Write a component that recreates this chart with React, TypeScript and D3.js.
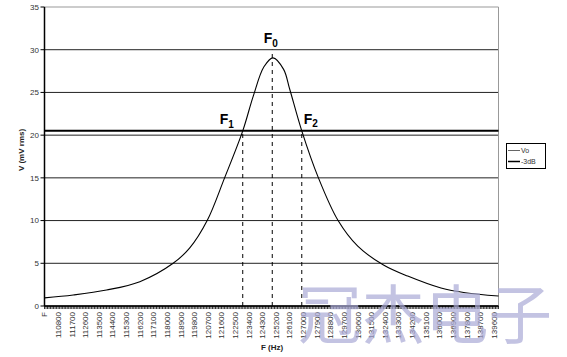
import React from "react";
import * as d3 from "d3";

// Frequency (Hz) and output voltage (mV rms)
const freq = [109900, 111800, 114000, 116200, 118400, 119500, 120650, 121800, 123000, 123700, 124400, 125000, 125700, 126100, 126900, 128000, 129300, 130600, 132300, 133900, 136100, 137700, 139900];
const vo = [0.95, 1.29, 1.87, 2.85, 5.0, 6.8, 10.0, 15.0, 20.5, 24.6, 28.0, 29.05, 27.7, 25.4, 20.5, 15.0, 10.0, 7.0, 4.8, 3.5, 2.1, 1.55, 1.17];
const minus3dB = 20.5;

const yTicks = [0, 5, 10, 15, 20, 25, 30, 35];
const xTickValues = [109900, 110800, 111700, 112600, 113500, 114400, 115300, 116200, 117100, 118000, 118900, 119800, 120700, 121600, 122500, 123400, 124300, 125200, 126100, 127000, 127900, 128800, 129700, 130600, 131500, 132400, 133300, 134200, 135100, 136000, 136900, 137800, 138700, 139600];
const xTickLabels = ["F", "110800", "111700", "112600", "113500", "114400", "115300", "116200", "117100", "118000", "118900", "119800", "120700", "121600", "122500", "123400", "124300", "125200", "126100", "127000", "127900", "128800", "129700", "130600", "131500", "132400", "133300", "134200", "135100", "136000", "136900", "137800", "138700", "139600"];

const markerNames = ["F1", "F0", "F2"];
const markerSubs = ["1", "0", "2"];
const markerFreqs = [123000, 124950, 126900];
const markerTops = [20.5, 30, 20.5];

const legendLabels = ["Vo", "-3dB"];

const W = 567, H = 357;
const left = 44.5, right = 498.5, top = 7, bottom = 306;

export default function App() {
  const x = d3.scaleLinear().domain([109900, 139900]).range([left, right]);
  const y = d3.scaleLinear().domain([0, 35]).range([bottom, top]);
  const line = d3
    .line<number>()
    .x((_, i) => x(freq[i]))
    .y((d) => y(d))
    .curve(d3.curveCatmullRom.alpha(0.5));
  const minorTicks = d3.range(109900, 139901, 100);
  const font = "'Liberation Sans', Arial, sans-serif";

  return (
    <svg width={W} height={H} style={{ position: "absolute", left: 0, top: 0, background: "#fff" }} fontFamily={font}>
      <rect x={0} y={0} width={W} height={H} fill="#fff" />
      {/* gridlines */}
      {yTicks.map((t) => (
        <line key={t} x1={left} x2={right} y1={y(t)} y2={y(t)} stroke={t === 35 ? "#999" : "#222"} strokeWidth={1} />
      ))}
      <line x1={right} x2={right} y1={top} y2={bottom} stroke="#999" />
      {/* -3dB line */}
      <line x1={left} x2={right} y1={y(minus3dB)} y2={y(minus3dB)} stroke="#000" strokeWidth={2} />
      {/* dashed markers */}
      {markerFreqs.map((f, i) => (
        <line key={i} x1={x(f)} x2={x(f)} y1={bottom} y2={y(markerTops[i])} stroke="#000" strokeWidth={1} strokeDasharray="4,4" />
      ))}
      {/* curve */}
      <path d={line(vo) || ""} fill="none" stroke="#000" strokeWidth={1.1} />
      {/* axes */}
      <line x1={left} x2={left} y1={top} y2={bottom} stroke="#000" strokeWidth={1.5} />
      <line x1={left} x2={right} y1={bottom} y2={bottom} stroke="#000" strokeWidth={1.5} />
      {yTicks.map((t) => (
        <g key={t}>
          <line x1={left - 4} x2={left} y1={y(t)} y2={y(t)} stroke="#000" />
          <text x={39} y={y(t)} dy="0.35em" textAnchor="end" fontSize={8} fill="#333">{t}</text>
        </g>
      ))}
      {minorTicks.map((t) => (
        <line key={t} x1={x(t)} x2={x(t)} y1={bottom} y2={bottom + 3} stroke="#000" strokeWidth={0.8} />
      ))}
      {xTickValues.map((t, i) => (
        <text key={t} transform={`translate(${x(t)},312) rotate(-90)`} dy="0.35em" textAnchor="end" fontSize={8} fill="#333">
          {xTickLabels[i]}
        </text>
      ))}
      {/* axis titles */}
      <text transform="translate(23.5,150) rotate(-90)" textAnchor="middle" fontSize={8} fontWeight="bold" fill="#222">V (mV rms)</text>
      <text x={272} y={350} textAnchor="middle" fontSize={8} fontWeight="bold" fill="#222">F (Hz)</text>
      {/* marker labels */}
      {markerFreqs.map((f, i) => {
        const lx = i === 0 ? x(f) - 23 : i === 1 ? x(f) - 8.5 : x(f) + 2;
        const ly = i === 1 ? 43 : i === 0 ? 124 : 123.5;
        return (
          <text key={i} x={lx} y={ly} fontSize={14} fontWeight="bold" fill="#000">
            {markerNames[i][0]}
            <tspan fontSize={10} dy={3.5}>{markerSubs[i]}</tspan>
          </text>
        );
      })}
      {/* legend */}
      <rect x={506.5} y={143.5} width={39} height={25} fill="#fff" stroke="#000" strokeWidth={1} />
      {legendLabels.map((l, i) => (
        <g key={l}>
          <line x1={508} x2={520} y1={150.5 + i * 11} y2={150.5 + i * 11} stroke={i === 0 ? "#666" : "#000"} strokeWidth={i === 0 ? 1 : 1.5} />
          <text x={521} y={150.5 + i * 11} dy="0.35em" fontSize={7} fill="#333">{l}</text>
        </g>
      ))}
      {/* watermark */}
      <text x={298} y={338} fontSize={64} fill="#a9a9d6" fillOpacity={0.7} fontFamily="'Noto Sans CJK SC', sans-serif" textLength={254} lengthAdjust="spacingAndGlyphs">冠杰电子</text>
    </svg>
  );
}
